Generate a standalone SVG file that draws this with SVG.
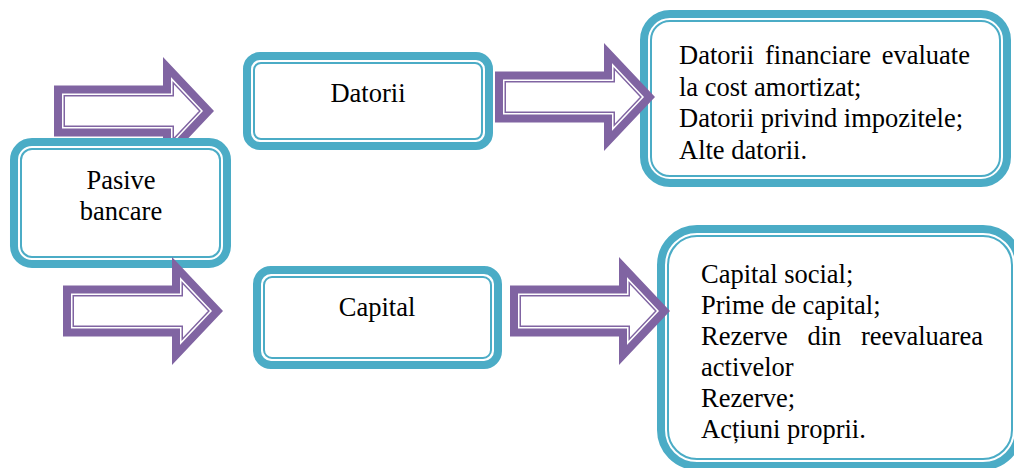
<svg xmlns="http://www.w3.org/2000/svg" xmlns:xlink="http://www.w3.org/1999/xlink" width="1014" height="468" viewBox="0 0 1014 468">
<style>
.band{fill:#fff;stroke:#4BACC6;stroke-width:8}
.thin{fill:none;stroke:#4BACC6;stroke-width:2}
.abody{fill:#fff;stroke:#8064A2;stroke-width:8;stroke-linejoin:miter;stroke-miterlimit:10}
.aline{fill:none;stroke:#8064A2;stroke-width:1.5;stroke-linejoin:miter;stroke-miterlimit:10}
text{font-family:"Liberation Serif","Times New Roman",serif;font-size:26.5px;fill:#000}
.c{text-anchor:middle}
</style>
<defs>
<g id="arrow">
<path class="abody" d="M-105,-21.5 H4 V-43.94 L45.5,0 L4,43.94 V21.5 H-105 Z"/>
<path class="aline" d="M-98.75,-15.25 H10.25 V-28.22 L36.9,0 L10.25,28.22 V15.25 H-98.75 Z"/>
</g>
<clipPath id="clipA1"><rect x="0" y="0" width="1014" height="138"/></clipPath>
</defs>
<rect width="1014" height="468" fill="#fff"/>
<g id="pasive-bancare">
<rect class="band" x="14" y="142" width="213" height="122" rx="18"/>
<rect class="thin" x="21" y="149" width="199" height="108" rx="11"/>
<text class="c"><tspan x="121" y="189">Pasive</tspan><tspan x="121" y="220">bancare</tspan></text>
</g>
<g id="datorii">
<rect class="band" x="247" y="56" width="242" height="90" rx="13"/>
<rect class="thin" x="254" y="63" width="228" height="76" rx="7"/>
<text class="c" x="368" y="102">Datorii</text>
</g>
<g id="capital">
<rect class="band" x="257" y="270" width="241" height="95" rx="14"/>
<rect class="thin" x="264" y="277" width="227" height="81" rx="8"/>
<text class="c" x="377" y="316">Capital</text>
</g>
<g id="datorii-detalii">
<rect class="band" x="644" y="14" width="363" height="169" rx="26"/>
<rect class="thin" x="651" y="21" width="349" height="155" rx="19"/>
<text><tspan x="679" y="64">Datorii</tspan><tspan x="765" y="64">financiare</tspan><tspan x="881.7" y="64">evaluate</tspan><tspan x="679" y="95.5">la cost amortizat;</tspan><tspan x="679" y="127">Datorii privind impozitele;</tspan><tspan x="679" y="158.5">Alte datorii.</tspan></text>
</g>
<g id="capital-detalii">
<rect class="band" x="661" y="229" width="358" height="237" rx="36"/>
<rect class="thin" x="668" y="236" width="344" height="223" rx="29"/>
<text><tspan x="701" y="283">Capital social;</tspan><tspan x="701" y="314">Prime de capital;</tspan><tspan x="701" y="345">Rezerve</tspan><tspan x="807.4" y="345">din</tspan><tspan x="860.9" y="345">reevaluarea</tspan><tspan x="701" y="376">activelor</tspan><tspan x="701" y="407">Rezerve;</tspan><tspan x="701" y="438">Acțiuni proprii.</tspan></text>
</g>
<g id="connectors">
<g clip-path="url(#clipA1)"><use xlink:href="#arrow" href="#arrow" transform="translate(163,111)"/></g>
<use xlink:href="#arrow" href="#arrow" transform="translate(172,311)"/>
<use xlink:href="#arrow" href="#arrow" transform="translate(604,97)"/>
<use xlink:href="#arrow" href="#arrow" transform="translate(619,311)"/>
</g>
</svg>
